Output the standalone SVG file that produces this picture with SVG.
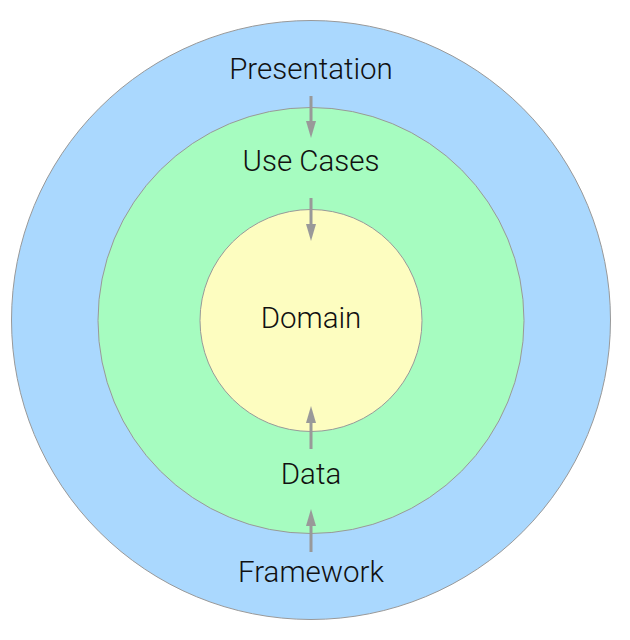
<svg xmlns="http://www.w3.org/2000/svg" width="630" height="640" viewBox="0 0 630 640">
<style>
.ring{stroke:#999;stroke-width:1}
.lbl{font-family:Roboto,"Liberation Sans",sans-serif;font-weight:300;font-size:29.5px;fill:#111;text-anchor:middle}
.arr{stroke:#999;stroke-width:3;fill:none;marker-end:url(#ah)}
</style>
<defs>
<marker id="ah" markerUnits="userSpaceOnUse" markerWidth="17" markerHeight="10" refX="0" refY="5" orient="auto" viewBox="0 0 17 10">
<path d="M0,0 L17,5 L0,10 Z" fill="#999"/>
</marker>
</defs>
<rect width="630" height="640" fill="#fff"/>
<g id="framework-ring"><circle class="ring" cx="311" cy="320" r="299.5" fill="#aad8fe"/></g>
<g id="usecases-ring"><circle class="ring" cx="311" cy="320.5" r="213" fill="#a6fcc0"/></g>
<g id="domain-node"><circle class="ring" cx="311" cy="320.5" r="111" fill="#fdfdc0"/><text class="lbl" x="311" y="328">Domain</text></g>
<g id="presentation-node"><text class="lbl" x="311" y="79">Presentation</text></g>
<g id="usecases-node"><text class="lbl" x="311" y="171">Use Cases</text></g>
<g id="data-node"><text class="lbl" x="311" y="484">Data</text></g>
<g id="framework-node"><text class="lbl" x="311" y="582">Framework</text></g>
<g id="connectors">
<line class="arr" x1="311" y1="96" x2="311" y2="121"/>
<line class="arr" x1="311" y1="198" x2="311" y2="224"/>
<line class="arr" x1="311" y1="449" x2="311" y2="423"/>
<line class="arr" x1="311" y1="552" x2="311" y2="526"/>
</g>
</svg>
